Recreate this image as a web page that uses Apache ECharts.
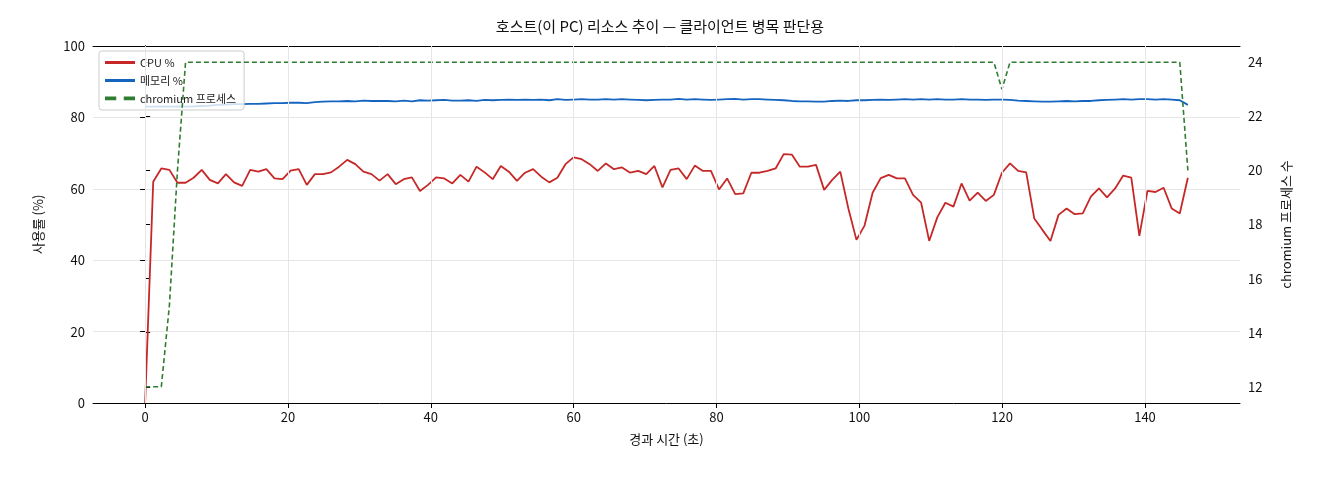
<!DOCTYPE html>
<html><head><meta charset="utf-8">
<script src="https://cdn.jsdelivr.net/npm/echarts@6/dist/echarts.min.js"></script>
<style>html,body{margin:0;padding:0;background:#fff}#c{width:1320px;height:480px}</style>
</head><body><div id="c"></div>
<script>
const SAMPLE_COUNT = 130, DURATION = 146;
const times = Array.from({length: SAMPLE_COUNT}, (_, i) => i * DURATION / (SAMPLE_COUNT - 1));
const cpu = [0,62.0,65.7,65.3,61.7,61.7,63.1,65.3,62.5,61.5,
64.1,61.8,60.8,65.3,64.8,65.5,62.9,62.7,65.1,65.5,
61.1,64.1,64.1,64.6,66.2,68.1,66.9,64.8,64.1,62.3,
64.1,61.3,62.7,63.2,59.4,61.1,63.2,62.9,61.5,63.9,
62.0,66.2,64.6,62.7,66.4,64.8,62.2,64.5,65.5,63.4,
61.8,63.1,66.9,68.8,68.3,66.9,65.0,67.1,65.5,66.0,
64.5,65.0,64.1,66.4,60.4,65.3,65.7,62.7,66.5,65.0,
65.0,59.8,62.9,58.5,58.7,64.5,64.5,65.0,65.7,69.7,
69.6,66.2,66.2,66.7,59.7,62.5,64.8,54.5,45.7,49.7,
58.9,63.0,63.9,62.9,62.9,58.3,56.1,45.4,52.0,56.1,
55.0,61.5,56.7,58.9,56.6,58.3,64.5,67.1,65.0,64.6,
51.7,48.5,45.4,52.7,54.5,52.9,53.1,57.8,60.1,57.6,
60.1,63.7,63.1,46.8,59.4,59.1,60.3,54.5,53.1,63.1];
const mem = [83.0,83.0,83.1,83.0,83.1,83.0,83.1,83.2,83.3,83.5,
83.6,83.7,83.7,83.8,83.8,83.9,84.0,84.0,84.1,84.1,
84.0,84.3,84.4,84.5,84.5,84.6,84.5,84.7,84.6,84.6,
84.6,84.5,84.7,84.5,84.8,84.7,84.8,84.9,84.7,84.7,
84.8,84.6,84.9,84.8,84.9,85.0,84.9,85.0,84.9,85.0,
84.8,85.1,84.9,85.0,85.1,85.0,85.0,85.1,85.0,85.1,
85.0,84.9,84.8,84.9,85.0,85.0,85.2,85.0,85.1,85.0,
84.9,85.0,85.1,85.2,85.0,85.1,85.1,85.0,84.9,84.8,
84.6,84.5,84.5,84.4,84.4,84.6,84.7,84.6,84.8,84.8,
84.9,85.0,84.9,85.0,85.1,85.0,85.1,85.0,85.1,85.0,
85.0,85.1,85.0,85.0,84.9,85.0,85.0,84.9,84.7,84.6,
84.5,84.4,84.4,84.5,84.6,84.5,84.6,84.6,84.8,84.9,
85.0,85.1,85.0,85.1,85.1,85.0,85.1,85.0,84.8,83.5];
const chromium = [12,12,12,15,20,24,24,24,24,24,
24,24,24,24,24,24,24,24,24,24, 24,24,24,24,24,24,24,24,24,24,
24,24,24,24,24,24,24,24,24,24, 24,24,24,24,24,24,24,24,24,24,
24,24,24,24,24,24,24,24,24,24, 24,24,24,24,24,24,24,24,24,24,
24,24,24,24,24,24,24,24,24,24, 24,24,24,24,24,24,24,24,24,24,
24,24,24,24,24,24,24,24,24,24, 24,24,24,24,24,24,23,24,24,24,
24,24,24,24,24,24,24,24,24,24, 24,24,24,24,24,24,24,24,24,20];
const xTicks = [0,20,40,60,80,100,120,140];
const yLeftTicks = [0,20,40,60,80,100];
const yRightTicks = [12,14,16,18,20,22,24];

const F = '"Noto Sans CJK KR", "Noto Sans", sans-serif';
const pair = a => a.map((v,i)=>[times[i], v]);
const chart = echarts.init(document.getElementById('c'));
chart.setOption({
  animation:false,
  textStyle:{fontFamily:F},
  title:{text:'호스트(이 PC) 리소스 추이 — 클라이언트 병목 판단용', left:'center', top:14,
    textStyle:{fontFamily:F, fontSize:15, fontWeight:'normal', color:'#111'}},
  grid:{left:93, right:80, top:46, bottom:77},
  legend:{left:99, top:51, orient:'vertical', itemGap:7, itemWidth:30, itemHeight:8,
    backgroundColor:'rgba(255,255,255,0.8)', borderColor:'#ccc', borderWidth:1, borderRadius:3, padding:[6,8,6,6],
    textStyle:{fontFamily:F, fontSize:11, color:'#222'},
    data:[{name:'CPU %',icon:'path://M0,0H10V1H0Z'},{name:'메모리 %',icon:'path://M0,0H10V1H0Z'},{name:'chromium 프로세스',icon:'path://M0,0H3V1H0ZM5,0H8V1H5Z'}]},
  xAxis:[{type:'value', min:-7.3, max:153.3, name:'경과 시간 (초)', nameLocation:'middle', nameGap:30,
    nameTextStyle:{fontFamily:F, fontSize:13, color:'#111'},
    axisLine:{lineStyle:{color:'#000'}}, axisTick:{show:true, customValues:xTicks, length:5, lineStyle:{color:'#000'}},
    axisLabel:{customValues:xTicks, fontSize:13, color:'#111', fontFamily:F}, splitLine:{show:false}},
    {type:'value', position:'top', min:-7.3, max:153.3, axisLine:{show:true, lineStyle:{color:'#000'}},
     axisTick:{show:false}, axisLabel:{show:false}, splitLine:{show:false}}],
  yAxis:[
    {type:'value', min:0, max:100, interval:20, name:'사용률 (%)', nameLocation:'middle', nameGap:48,
     nameTextStyle:{fontFamily:F, fontSize:13, color:'#111'},
     axisLine:{show:true, lineStyle:{color:'#000'}}, axisTick:{show:true, length:5, lineStyle:{color:'#000'}},
     axisLabel:{fontSize:13, color:'#111', fontFamily:F}, splitLine:{lineStyle:{color:'#e6e6e6'}}},
    {type:'value', min:11.4, max:24.6, position:'right', name:'chromium 프로세스 수', nameLocation:'middle', nameGap:40,
     nameTextStyle:{fontFamily:F, fontSize:13, color:'#111'},
     axisLine:{show:true, lineStyle:{color:'#000'}}, axisTick:{show:true, customValues:yRightTicks, length:5, lineStyle:{color:'#000'}},
     axisLabel:{customValues:yRightTicks, fontSize:13, color:'#111', fontFamily:F}, splitLine:{show:false}}
  ],
  series:[
    {name:'CPU %', type:'line', data:pair(cpu), showSymbol:false, lineStyle:{color:'#c62828', width:1.8}, itemStyle:{color:'#c62828'}, z:3,
     markLine:{silent:true, symbol:'none', label:{show:false}, lineStyle:{color:'#e6e6e6', type:'solid', width:1},
       data:xTicks.map(v=>({xAxis:v}))}},
    {name:'메모리 %', type:'line', data:pair(mem), showSymbol:false, lineStyle:{color:'#1565c0', width:1.8}, itemStyle:{color:'#1565c0'}, z:3},
    {name:'chromium 프로세스', type:'line', yAxisIndex:1, data:pair(chromium), showSymbol:false,
     lineStyle:{color:'#2e7d32', width:1.6, type:[5,3]}, itemStyle:{color:'#2e7d32'}, z:4}
  ]
});
</script></body></html>
